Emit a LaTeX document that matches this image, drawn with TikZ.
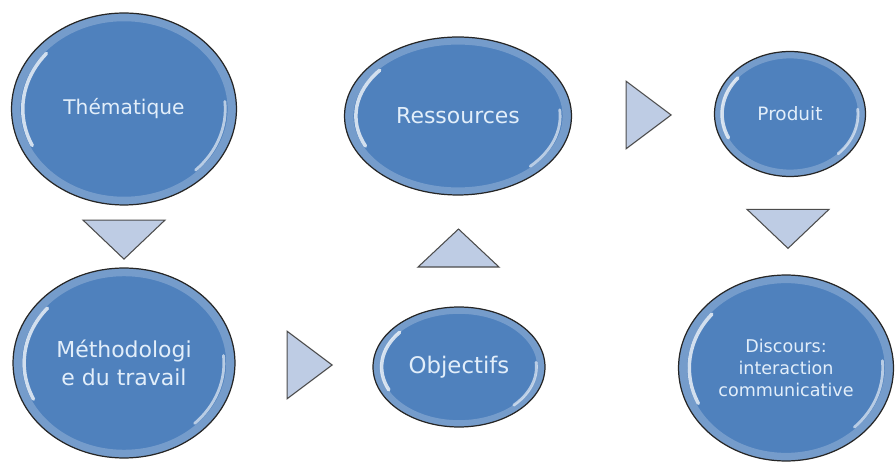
\documentclass[tikz,border=0pt]{standalone}
\usepackage{fontspec}
\setmainfont{DejaVu Sans}
\usetikzlibrary{positioning,shapes.geometric,calc}

\definecolor{bubblefill}{RGB}{79,129,189}
\definecolor{bubbletext}{RGB}{226,238,250}
\definecolor{pointerfill}{RGB}{190,204,228}

\tikzset{
  glossy/.style={path picture={
    \coordinate (gc) at (path picture bounding box.center);
    \coordinate (ge) at (path picture bounding box.north east);
    % light rim
    \draw[white, opacity=0.22, line width=5pt] let \p1=($(ge)-(gc)$) in
      (gc) ellipse [x radius=0.96*\x1, y radius=0.96*\y1];
    % highlights
    \draw[white, opacity=0.75, line width=2pt, line cap=round] let \p1=($(ge)-(gc)$) in
      ($(gc)+(140:{0.9*\x1} and {0.9*\y1})$)
      arc[start angle=140, end angle=205, x radius=0.9*\x1, y radius=0.9*\y1];
    \draw[white, opacity=0.6, line width=1.6pt, line cap=round] let \p1=($(ge)-(gc)$) in
      ($(gc)+(-45:{0.9*\x1} and {0.9*\y1})$)
      arc[start angle=-45, end angle=5, x radius=0.9*\x1, y radius=0.9*\y1];
  }},
  bubble/.style={ellipse, draw=black!85, line width=0.7pt, fill=bubblefill,
    text=bubbletext, align=center, inner sep=0pt, glossy},
  pointer/.style={isosceles triangle, isosceles triangle stretches,
    draw=black!70, fill=pointerfill, line width=0.6pt, inner sep=0pt},
  pointer down/.style={pointer, shape border rotate=270, minimum height=0.78cm, minimum width=1.64cm},
  pointer up/.style={pointer, shape border rotate=90, minimum height=0.76cm, minimum width=1.62cm},
  pointer right/.style={pointer, minimum height=0.9cm, minimum width=1.35cm}
}

\begin{document}
\begin{tikzpicture}[x=0.02cm,y=0.02cm]
  \useasboundingbox (0,0) rectangle (895,463);

  \node (them) [bubble, minimum width=4.5cm, minimum height=3.84cm,
    font=\fontsize{11.5}{14}\selectfont] at (124,354) {Thématique};
  \node (meth) [bubble, minimum width=4.44cm, minimum height=3.8cm,
    font=\fontsize{12.5}{16}\selectfont] at (124,100) {Méthodologi\\e du travail};
  \node (obj) [bubble, minimum width=3.44cm, minimum height=2.4cm,
    font=\fontsize{13}{16}\selectfont] at (459,96) {Objectifs};
  \node (res) [bubble, minimum width=4.54cm, minimum height=3.16cm,
    font=\fontsize{12.5}{16}\selectfont] at (458,347) {Ressources};
  \node (prod) [bubble, minimum width=3.02cm, minimum height=2.5cm,
    font=\fontsize{10.5}{13}\selectfont] at (790,349) {Produit};
  \node (disc) [bubble, minimum width=4.3cm, minimum height=3.72cm,
    font=\fontsize{10}{12.5}\selectfont] at (786,95) {Discours:\\interaction\\communicative};

  % pointers between the steps
  \node (p1) [pointer down] at ($(them.south)!0.5!(meth.north)$) {};
  \node (p2) [pointer right] at ($(meth.east)!0.5!(obj.west)$) {};
  \node (p3) [pointer up] at ($(obj.north)!0.5!(res.south)$) {};
  \node (p4) [pointer right] at ($(res.east)!0.5!(prod.west)$) {};
  \node (p5) [pointer down] at ($(prod.south)!0.5!(disc.north)$) {};

\end{tikzpicture}
\end{document}
